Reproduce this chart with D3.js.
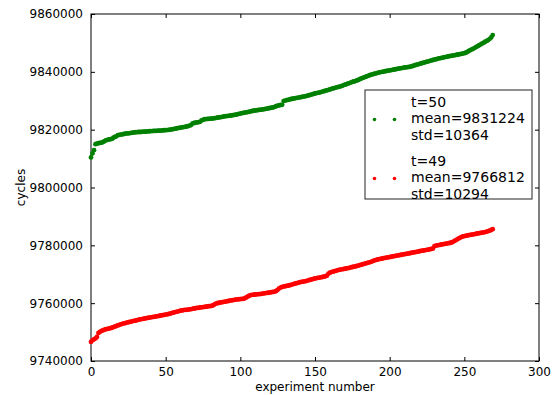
<!DOCTYPE html>
<html lang="en">
<head>
    <meta charset="UTF-8">
    <title>cycles per experiment</title>
    <style>
        body { margin: 0; background: white; }
        svg text { font-family: "DejaVu Sans", sans-serif; fill: black; }
    </style>
    <script src="https://d3js.org/d3.v7.min.js"></script>
</head>
<body>
    <div id="chart"></div>

    <script>
        // sorted cycle counts per experiment, t=50
        const cyclesT50 = [
            9810400, 9811800, 9812900, 9815000, 9815200, 9815300, 9815400, 9815500, 9815700, 9816000,
            9816300, 9816500, 9816600, 9816700, 9816800, 9817200, 9817500, 9817700, 9818100, 9818200,
            9818300, 9818400, 9818500, 9818600, 9818700, 9818750, 9818800, 9818900, 9818950, 9819050,
            9819100, 9819150, 9819200, 9819200, 9819250, 9819300, 9819300, 9819350, 9819400, 9819450,
            9819500, 9819500, 9819550, 9819550, 9819600, 9819650, 9819650, 9819700, 9819750, 9819800,
            9819850, 9819850, 9819900, 9820000, 9820100, 9820200, 9820300, 9820400, 9820500, 9820600,
            9820700, 9820800, 9820900, 9821000, 9821100, 9821200, 9821400, 9821600, 9822200, 9822300,
            9822400, 9822500, 9822600, 9822700, 9823200, 9823400, 9823600, 9823650, 9823700, 9823750,
            9823800, 9823850, 9823900, 9824000, 9824100, 9824200, 9824250, 9824350, 9824450, 9824550,
            9824650, 9824700, 9824800, 9824850, 9824900, 9825000, 9825100, 9825200, 9825300, 9825450,
            9825550, 9825700, 9825800, 9825900, 9826000, 9826100, 9826200, 9826350, 9826450, 9826550,
            9826650, 9826700, 9826800, 9826850, 9826900, 9827000, 9827100, 9827200, 9827300, 9827400,
            9827500, 9827600, 9827700, 9827900, 9828100, 9828300, 9828400, 9828550, 9828600, 9829900,
            9830050, 9830200, 9830300, 9830450, 9830600, 9830700, 9830800, 9830900, 9831000, 9831100,
            9831200, 9831300, 9831400, 9831500, 9831600, 9831750, 9831900, 9832050, 9832200, 9832350,
            9832500, 9832650, 9832750, 9832850, 9833000, 9833150, 9833300, 9833450, 9833600, 9833750,
            9833900, 9834100, 9834250, 9834400, 9834550, 9834700, 9834800, 9834950, 9835150, 9835350,
            9835550, 9835700, 9835900, 9836100, 9836300, 9836500, 9836650, 9836800, 9837000, 9837200,
            9837450, 9837700, 9837900, 9838100, 9838300, 9838500, 9838700, 9838900, 9839050, 9839200,
            9839350, 9839500, 9839650, 9839800, 9839900, 9840000, 9840100, 9840200, 9840300, 9840400,
            9840500, 9840600, 9840700, 9840800, 9840900, 9841000, 9841100, 9841200, 9841300, 9841400,
            9841500, 9841550, 9841600, 9841700, 9841800, 9841950, 9842100, 9842300, 9842450, 9842600,
            9842750, 9842900, 9843050, 9843200, 9843350, 9843500, 9843650, 9843800, 9843950, 9844100,
            9844200, 9844350, 9844500, 9844650, 9844750, 9844850, 9845000, 9845100, 9845200, 9845300,
            9845400, 9845500, 9845600, 9845700, 9845800, 9845900, 9846000, 9846100, 9846200, 9846300,
            9846450, 9846600, 9846900, 9847200, 9847500, 9847750, 9848000, 9848300, 9848600, 9848900,
            9849200, 9849500, 9849800, 9850100, 9850400, 9850700, 9851000, 9851400, 9851900, 9852700
        ]

        // sorted cycle counts per experiment, t=49
        const cyclesT49 = [
            9746600, 9747200, 9747500, 9747800, 9748300, 9749700, 9750100, 9750400, 9750600, 9750800,
            9751000, 9751100, 9751200, 9751350, 9751500, 9751700, 9751900, 9752100, 9752300, 9752500,
            9752700, 9752850, 9753000, 9753100, 9753250, 9753400, 9753500, 9753650, 9753800, 9753900,
            9754000, 9754150, 9754300, 9754400, 9754500, 9754600, 9754700, 9754800, 9754900, 9755000,
            9755100, 9755200, 9755250, 9755350, 9755450, 9755550, 9755650, 9755750, 9755850, 9755950,
            9756050, 9756150, 9756250, 9756400, 9756550, 9756700, 9756850, 9757000, 9757100, 9757250,
            9757400, 9757500, 9757600, 9757650, 9757700, 9757800, 9757850, 9757950, 9758050, 9758150,
            9758250, 9758350, 9758400, 9758500, 9758550, 9758650, 9758700, 9758800, 9758850, 9758950,
            9759000, 9759100, 9759300, 9759700, 9759900, 9760050, 9760150, 9760250, 9760350, 9760450,
            9760550, 9760650, 9760750, 9760850, 9760950, 9761050, 9761150, 9761250, 9761300, 9761350,
            9761400, 9761450, 9761500, 9761700, 9762000, 9762300, 9762600, 9762800, 9762900, 9762950,
            9763000, 9763050, 9763100, 9763150, 9763200, 9763300, 9763400, 9763500, 9763550, 9763600,
            9763700, 9763800, 9763900, 9764000, 9764200, 9764600, 9765100, 9765400, 9765600, 9765750,
            9765850, 9765950, 9766050, 9766200, 9766350, 9766500, 9766650, 9766800, 9766950, 9767100,
            9767250, 9767350, 9767450, 9767550, 9767650, 9767800, 9767950, 9768100, 9768250, 9768400,
            9768550, 9768650, 9768750, 9768850, 9768950, 9769050, 9769150, 9769300, 9769500, 9770200,
            9770550, 9770750, 9770900, 9771050, 9771200, 9771350, 9771500, 9771600, 9771700, 9771800,
            9771900, 9772000, 9772100, 9772200, 9772350, 9772500, 9772600, 9772700, 9772850, 9773000,
            9773150, 9773300, 9773450, 9773600, 9773750, 9773900, 9774050, 9774200, 9774400, 9774600,
            9774800, 9774950, 9775100, 9775250, 9775350, 9775450, 9775550, 9775650, 9775750, 9775850,
            9775950, 9776050, 9776150, 9776250, 9776350, 9776450, 9776550, 9776650, 9776750, 9776850,
            9776950, 9777050, 9777150, 9777250, 9777350, 9777450, 9777550, 9777650, 9777750, 9777850,
            9777950, 9778050, 9778150, 9778250, 9778350, 9778450, 9778550, 9778650, 9778750, 9778900,
            9779700, 9779900, 9780000, 9780100, 9780200, 9780300, 9780400, 9780500, 9780600, 9780700,
            9780800, 9780900, 9781100, 9781400, 9781700, 9782000, 9782300, 9782600, 9782850, 9783050,
            9783200, 9783300, 9783400, 9783500, 9783600, 9783700, 9783800, 9783900, 9784000, 9784100,
            9784200, 9784300, 9784400, 9784500, 9784600, 9784750, 9784900, 9785100, 9785300, 9785600
        ]

        const seriesNames = ["t=50", "t=49"]
        const seriesMeans = [9831224, 9766812]
        const seriesStds = [10364, 10294]
        const xTicks = [0, 50, 100, 150, 200, 250, 300]
        const yTicks = [9740000, 9760000, 9780000, 9800000, 9820000, 9840000, 9860000]

        const colorMap = {"t=50": "#008000", "t=49": "#ff0000"}

        // set the dimensions and margins of the graph
        const margin = {top: 14, right: 21, bottom: 34, left: 91},
        width = 560 - margin.left - margin.right,
        height = 395 - margin.top - margin.bottom;

        const svg = d3.select("#chart")
            .append("svg")
            .attr("width", 560)
            .attr("height", 395)
            .append("g")
            .attr("transform", `translate(${margin.left},${margin.top})`)

        const x = d3.scaleLinear().domain([0, 300]).range([0, width])
        const y = d3.scaleLinear().domain([9740000, 9860000]).range([height, 0])

        //axes with ticks pointing inward, on all four sides
        svg.append("g")
            .attr("transform", `translate(0, ${height})`)
            .call(d3.axisBottom(x).tickValues(xTicks).tickFormat(d3.format("d"))
                .tickSizeInner(-4).tickSizeOuter(0).tickPadding(6))
        svg.append("g")
            .call(d3.axisTop(x).tickValues(xTicks).tickFormat("")
                .tickSizeInner(-4).tickSizeOuter(0))
        svg.append("g")
            .call(d3.axisLeft(y).tickValues(yTicks).tickFormat(d3.format("d"))
                .tickSizeInner(-4).tickSizeOuter(0).tickPadding(8))
        svg.append("g")
            .attr("transform", `translate(${width}, 0)`)
            .call(d3.axisRight(y).tickValues(yTicks).tickFormat("")
                .tickSizeInner(-4).tickSizeOuter(0))

        svg.selectAll(".domain").remove()
        svg.selectAll(".tick line").attr("stroke", "black")
        svg.selectAll(".tick text")
            .style("font-family", "DejaVu Sans")
            .style("font-size", "12px")
            .attr("fill", "black")

        //frame
        svg.append("rect")
            .attr("width", width)
            .attr("height", height)
            .attr("fill", "none")
            .attr("stroke", "black")
            .attr("stroke-width", 1)

        //points
        const dataReady = [
            {name: "t=50", values: cyclesT50},
            {name: "t=49", values: cyclesT49}
        ]
        svg.selectAll("g.series")
            .data(dataReady)
            .join("g")
            .attr("class", "series")
            .style("fill", d => colorMap[d.name])
            .selectAll("circle")
            .data(d => d.values)
            .join("circle")
            .attr("cx", (d, i) => x(i))
            .attr("cy", d => y(d))
            .attr("r", 2.4)

        //axis labels
        svg.append("text")
            .attr("text-anchor", "middle")
            .attr("x", width / 2)
            .attr("y", height + 30)
            .style("font-size", "12px")
            .text("experiment number")

        svg.append("text")
            .attr("text-anchor", "middle")
            .attr("transform", "rotate(-90)")
            .attr("x", -height / 2)
            .attr("y", -66)
            .style("font-size", "12px")
            .text("cycles")

        //legend
        const legend = svg.append("g")
            .attr("transform", `translate(${365 - margin.left}, ${90 - margin.top})`)
        legend.append("rect")
            .attr("width", 167)
            .attr("height", 109)
            .attr("fill", "white")
            .attr("stroke", "#222")
            .attr("stroke-width", 1)

        seriesNames.forEach((name, k) => {
            const top = 17 + k * 59
            const lines = [name, "mean=" + seriesMeans[k], "std=" + seriesStds[k]]
            lines.forEach((t, j) => {
                legend.append("text")
                    .attr("x", 46)
                    .attr("y", top + j * 16.3)
                    .style("font-size", "14px")
                    .text(t)
            })
            ;[9.5, 29.5].forEach(dx => {
                legend.append("circle")
                    .attr("cx", dx)
                    .attr("cy", top + 12.5)
                    .attr("r", 1.8)
                    .style("fill", colorMap[name])
            })
        })
    </script>
</body>
</html>
